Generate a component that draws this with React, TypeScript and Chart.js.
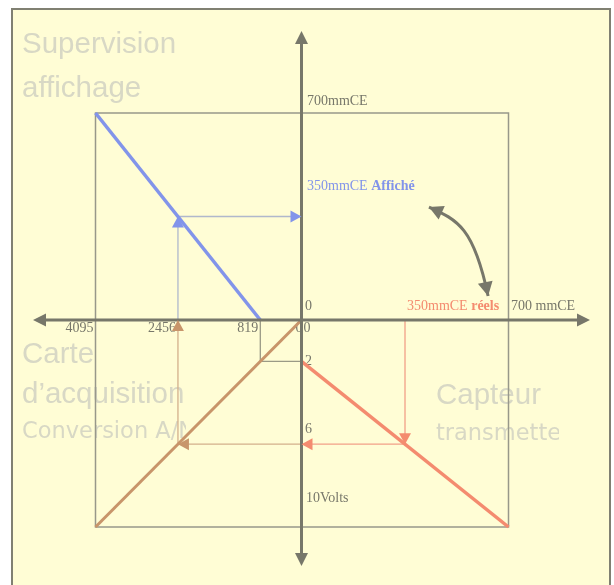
import React, { useEffect, useRef } from "react";
import { Chart, registerables } from "chart.js";
Chart.register(...registerables);

const W = 614;
const H = 585;

// ---- data (in each quadrant's own units) ----
const countLabels = [4095, 2456, 819];
const voltLabels = [0, 2, 6];

// thick transfer lines
const supCounts = [4095, 819];
const supDisplayed = [700, 0];
const carteCounts = [0, 4095];
const carteVolts = [0, 10];
const captReal = [0, 700];
const captVolts = [2, 10];

// measurement path (350 mmCE)
const measReal = [350, 350, 0];
const measVolts = [0, 6, 6];
const convCounts = [0, 2456, 2456];
const convVolts = [6, 6, 0];
const dispCounts = [2456, 2456, 0];
const dispDisplayed = [0, 350, 350];
const offCounts = [819, 819, 0];
const offVolts = [0, 2, 2];

// square frame, one corner per quadrant
const boxTLCounts = [0, 4095, 4095];
const boxTLDisp = [700, 700, 0];
const boxTRReal = [0, 700, 700];
const boxTRDisp = [700, 700, 0];
const boxBRReal = [700, 700, 0];
const boxBRVolts = [0, 10, 10];
const boxBLCounts = [0, 4095, 4095];
const boxBLVolts = [10, 10, 0];

// curved double arrow (mmCE réels / mmCE affiché)
const curveReal = [431, 529, 583, 631];
const curveDisp = [382, 338, 311, 81];

// ---- layout ----
const X0 = 301.5;
const Y0 = 320;
const HALF_L = 206;
const HALF_R = 207;
const HALF_V = 207;

const GRAY = "#77776a";
const BLUE = "#8294ea";
const BROWN = "#c8956a";
const SALMON = "#f48b6f";

const pts = (xs: number[], ys: number[]) => xs.map((x, i) => ({ x, y: ys[i] }));

function ds(xs: number[], ys: number[], xAxisID: string, yAxisID: string, color: string, width: number, extra: any = {}) {
  return {
    data: pts(xs, ys),
    xAxisID,
    yAxisID,
    borderColor: color,
    backgroundColor: color,
    borderWidth: width,
    pointRadius: 0,
    pointHoverRadius: 0,
    showLine: true,
    fill: false,
    tension: 0,
    borderCapStyle: "butt",
    borderJoinStyle: "miter",
    ...extra,
  };
}

function arrowHead(ctx: CanvasRenderingContext2D, tx: number, ty: number, dx: number, dy: number, len: number, half: number, color: string) {
  const l = Math.hypot(dx, dy) || 1;
  const ux = dx / l, uy = dy / l;
  const bx = tx - ux * len, by = ty - uy * len;
  ctx.beginPath();
  ctx.moveTo(tx, ty);
  ctx.lineTo(bx - uy * half, by + ux * half);
  ctx.lineTo(bx + uy * half, by - ux * half);
  ctx.closePath();
  ctx.fillStyle = color;
  ctx.fill();
}

const diagramPlugin = {
  id: "diagram",
  beforeDraw(chart: any) {
    const ctx = chart.ctx as CanvasRenderingContext2D;
    ctx.save();
    ctx.fillStyle = "#ffffff";
    ctx.fillRect(0, 0, W, H);
    ctx.fillStyle = "#fffdd5";
    ctx.fillRect(12, 9, 598, 600);
    ctx.strokeStyle = "#808072";
    ctx.lineWidth = 2;
    ctx.strokeRect(12, 9, 598, 600);
    ctx.restore();
  },
  beforeDatasetsDraw(chart: any) {
    const ctx = chart.ctx as CanvasRenderingContext2D;
    const s = chart.scales;
    ctx.save();
    // watermark titles
    ctx.fillStyle = "#d8d8c5";
    ctx.textBaseline = "alphabetic";
    ctx.textAlign = "left";
    ctx.font = "29.5px 'Liberation Sans'";
    ctx.fillText("Supervision", 22, 53);
    ctx.fillText("affichage", 22, 97);
    ctx.fillText("Carte", 22, 363);
    ctx.fillText("d\u2019acquisition", 22, 403);
    ctx.fillText("Capteur", 436, 404);
    ctx.font = "22.5px 'DejaVu Sans'";
    ctx.save();
    ctx.beginPath();
    ctx.rect(0, 400, 186, 60);
    ctx.clip();
    ctx.fillText("Conversion A/N", 22, 438);
    ctx.restore();
    ctx.save();
    ctx.beginPath();
    ctx.rect(400, 400, 159, 60);
    ctx.clip();
    ctx.fillText("transmetteur", 436, 440);
    ctx.restore();

    // value labels
    const serif = "14px 'Liberation Serif'";
    const serifB = "bold 14px 'Liberation Serif'";
    ctx.font = serif;
    ctx.fillStyle = GRAY;
    ctx.textAlign = "right";
    countLabels.forEach((c) => {
      ctx.fillText(String(c), s.xCounts.getPixelForValue(c) - 2, Y0 + 11.5);
    });
    ctx.fillText("0", s.xCounts.getPixelForValue(0) + 1, Y0 + 11.5);
    ctx.textAlign = "left";
    const xv = s.xReal.getPixelForValue(0);
    voltLabels.forEach((v) => {
      const y = s.yVolts.getPixelForValue(v);
      const yy = v === 0 ? y + 11.5 : v === 2 ? y + 3.6 : y - 11.5;
      ctx.fillText(String(v), xv + (v === 0 ? 2 : 3.5), yy);
    });
    ctx.fillText("10Volts", xv + 4.5, s.yVolts.getPixelForValue(10) - 25.5);
    ctx.fillText("700mmCE", xv + 5.5, s.yDisp.getPixelForValue(700) - 8);
    ctx.fillText("0", xv + 3.5, Y0 - 10);
    ctx.fillText("700 mmCE", s.xReal.getPixelForValue(700) + 2.5, Y0 - 10);

    // 350mmCE Affiché
    ctx.fillStyle = BLUE;
    let x = xv + 5.5;
    const yA = s.yDisp.getPixelForValue(350) - 27;
    ctx.fillText("350mmCE ", x, yA);
    x += ctx.measureText("350mmCE ").width;
    ctx.font = serifB;
    ctx.fillText("Affich\u00e9", x, yA);

    // 350mmCE réels
    ctx.font = serif;
    ctx.fillStyle = SALMON;
    x = s.xReal.getPixelForValue(350) + 2;
    ctx.fillText("350mmCE ", x, Y0 - 10);
    x += ctx.measureText("350mmCE ").width;
    ctx.font = serifB;
    ctx.fillText("r\u00e9els", x, Y0 - 10);
    ctx.restore();
  },
  afterDatasetsDraw(chart: any) {
    const ctx = chart.ctx as CanvasRenderingContext2D;
    const s = chart.scales;
    const ox = s.xReal.getPixelForValue(0);
    const oy = s.yDisp.getPixelForValue(0);
    ctx.save();
    // main axes
    ctx.strokeStyle = GRAY;
    ctx.lineWidth = 3;
    ctx.beginPath();
    ctx.moveTo(44, oy);
    ctx.lineTo(579, oy);
    ctx.moveTo(ox, 42);
    ctx.lineTo(ox, 555);
    ctx.stroke();
    arrowHead(ctx, 33, oy, -1, 0, 13, 6.5, GRAY);
    arrowHead(ctx, 590, oy, 1, 0, 13, 6.5, GRAY);
    arrowHead(ctx, ox, 31, 0, -1, 13, 6.5, GRAY);
    arrowHead(ctx, ox, 566, 0, 1, 13, 6.5, GRAY);

    // dataset arrowheads
    chart.data.datasets.forEach((d: any, i: number) => {
      if (!d.arrowAt) return;
      const meta = chart.getDatasetMeta(i);
      d.arrowAt.forEach((j: number) => {
        const p = meta.data[j];
        const q = meta.data[j - 1];
        arrowHead(ctx, p.x, p.y, p.x - q.x, p.y - q.y, 11, 6, d.arrowColor);
      });
    });

    // curved double arrow
    const cx = curveReal.map((v) => s.xReal.getPixelForValue(v));
    const cy = curveDisp.map((v) => s.yDisp.getPixelForValue(v));
    ctx.strokeStyle = GRAY;
    ctx.lineWidth = 3;
    ctx.beginPath();
    ctx.moveTo(cx[0], cy[0]);
    ctx.bezierCurveTo(cx[1], cy[1], cx[2], cy[2], cx[3], cy[3]);
    ctx.stroke();
    arrowHead(ctx, cx[0], cy[0], cx[0] - cx[1], cy[0] - cy[1], 14, 7.5, GRAY);
    arrowHead(ctx, cx[3], cy[3], cx[3] - cx[2], cy[3] - cy[2], 14, 7.5, GRAY);
    ctx.restore();
  },
};

export default function App() {
  const ref = useRef<HTMLCanvasElement>(null);
  useEffect(() => {
    if (!ref.current) return;
    const chart = new Chart(ref.current, {
      type: "scatter",
      data: {
        datasets: [
          ds(supCounts, supDisplayed, "xCounts", "yDisp", BLUE, 3.5),
          ds(carteCounts, carteVolts, "xCounts", "yVolts", BROWN, 3),
          ds(captReal, captVolts, "xReal", "yVolts", SALMON, 3.5),
          ds(measReal, measVolts, "xReal", "yVolts", "#f2a088", 1.3, { arrowAt: [1, 2], arrowColor: SALMON }),
          ds(convCounts, convVolts, "xCounts", "yVolts", "#d4b08c", 1.3, { arrowAt: [1, 2], arrowColor: BROWN }),
          ds(dispCounts, dispDisplayed, "xCounts", "yDisp", "#b0b8cc", 1.3, { arrowAt: [1, 2], arrowColor: BLUE }),
          ds(offCounts, offVolts, "xCounts", "yVolts", "#9a9a86", 1.3),
          ds(boxTLCounts, boxTLDisp, "xCounts", "yDisp", "#98988a", 1.5),
          ds(boxTRReal, boxTRDisp, "xReal", "yDisp", "#98988a", 1.5),
          ds(boxBRReal, boxBRVolts, "xReal", "yVolts", "#98988a", 1.5),
          ds(boxBLCounts, boxBLVolts, "xCounts", "yVolts", "#98988a", 1.5),
        ] as any,
      },
      options: {
        animation: false,
        responsive: false,
        devicePixelRatio: 1,
        events: [],
        layout: { padding: 0 },
        plugins: { legend: { display: false }, tooltip: { enabled: false } },
        scales: {
          xCounts: {
            type: "linear", axis: "x", position: "bottom", display: false, reverse: true,
            min: -((W - X0) / HALF_L) * 4095, max: (X0 / HALF_L) * 4095,
          },
          xReal: {
            type: "linear", axis: "x", position: "bottom", display: false,
            min: -(X0 / HALF_R) * 700, max: ((W - X0) / HALF_R) * 700,
          },
          yDisp: {
            type: "linear", axis: "y", position: "left", display: false,
            min: -((H - Y0) / HALF_V) * 700, max: (Y0 / HALF_V) * 700,
          },
          yVolts: {
            type: "linear", axis: "y", position: "left", display: false, reverse: true,
            min: -(Y0 / HALF_V) * 10, max: ((H - Y0) / HALF_V) * 10,
          },
        } as any,
      },
      plugins: [diagramPlugin],
    });
    return () => chart.destroy();
  }, []);
  return (
    <div style={{ position: "absolute", left: 0, top: 0, width: W, height: H }}>
      <canvas ref={ref} width={W} height={H} style={{ display: "block", width: W, height: H }} />
    </div>
  );
}
